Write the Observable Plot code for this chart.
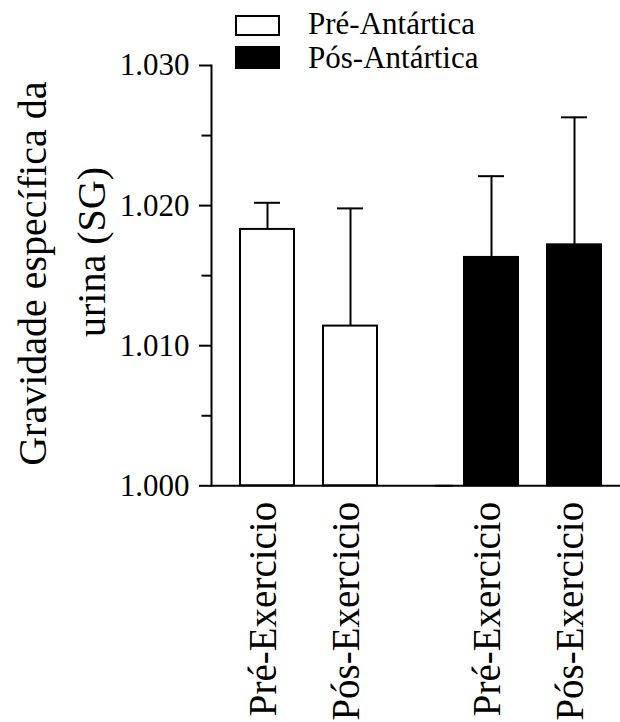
<!DOCTYPE html>
<html>
<head>
<meta charset="utf-8">
<script src="https://cdn.jsdelivr.net/npm/d3@7"></script>
<script src="https://cdn.jsdelivr.net/npm/@observablehq/plot@0.6"></script>
<style>
  body { margin: 0; background: #fff; overflow: hidden; }
  #wrap { position: relative; width: 620px; height: 722px; }
  #wrap svg.overlay { position: absolute; left: 0; top: 0; pointer-events: none; }
  #wrap svg, #wrap svg text { font-family: "Liberation Serif", "DejaVu Serif", "Noto Serif", serif !important; }
</style>
</head>
<body>
<div id="wrap"></div>
<script>
// ---- data ----
const groups = ["Pré-Antártica", "Pós-Antártica"];
const conditions = ["Pré-Exercicio", "Pós-Exercicio"];
const groupColors = ["white", "black"];
const meanPreAnt = [1.0183, 1.0114];
const meanPosAnt = [1.0163, 1.0172];
const sdPreAnt = [0.0019, 0.0084];
const sdPosAnt = [0.0058, 0.0091];
const yTicks = [1.000, 1.010, 1.020, 1.030];
const yMinorTicks = [1.005, 1.015, 1.025];
const yLabelLines = ["Gravidade específica da", "urina (SG)"];

const data = [];
conditions.forEach((c, i) => data.push({group: groups[0], cond: c, mean: meanPreAnt[i], sd: sdPreAnt[i]}));
conditions.forEach((c, i) => data.push({group: groups[1], cond: c, mean: meanPosAnt[i], sd: sdPosAnt[i]}));
data.forEach(d => d.top = d.mean + d.sd);

const font = '"Liberation Serif", "DejaVu Serif", "Noto Serif", serif';

const chart = Plot.plot({
  width: 620,
  height: 722,
  marginLeft: 211,
  marginRight: 3,
  marginTop: 65,
  marginBottom: 236.7,
  style: {fontFamily: font, color: "black", background: "white", overflow: "visible"},
  facet: {data, x: "group"},
  fx: {domain: groups, paddingInner: 0.1875, paddingOuter: 0, axis: null, label: null},
  x: {domain: conditions, paddingInner: 0.345, paddingOuter: 0.256, align: 0.658, axis: null},
  y: {domain: [1.000, 1.030], axis: null},
  color: {domain: groups, range: groupColors},
  marks: [
    Plot.ruleX(data, {x: "cond", y1: "mean", y2: "top", stroke: "black", strokeWidth: 2}),
    Plot.tickY(data, {x: "cond", y: "top", stroke: "black", strokeWidth: 2, insetLeft: 14, insetRight: 14}),
    Plot.barY(data, {x: "cond", y1: 1.000, y2: "mean", fill: "group", stroke: "black", strokeWidth: 2}),
    Plot.ruleY([1.000], {stroke: "black", strokeWidth: 2, insetRight: -60}),
    Plot.frame({anchor: "left", facetAnchor: "left", stroke: "black", strokeWidth: 2}),
    Plot.axisY({ticks: yTicks, tickFormat: d3.format(".3f"), tickSize: 12, tickPadding: 10, fontSize: 31, strokeWidth: 2, label: null}),
    Plot.axisY({ticks: yMinorTicks, tickFormat: () => "", tickSize: 9.5, strokeWidth: 2, label: null}),
    Plot.axisX({tickSize: 0, tickPadding: 16, tickRotate: -90, fontSize: 39, dx: -4, label: null})
  ]
});

const wrap = document.getElementById("wrap");
wrap.appendChild(chart);

// ---- overlay: y-axis title and legend ----
const overlay = d3.create("svg")
  .attr("class", "overlay")
  .attr("width", 620)
  .attr("height", 722);

overlay.append("text")
  .attr("transform", "translate(46,273.7) rotate(-90)")
  .attr("text-anchor", "middle")
  .attr("font-size", 40)
  .attr("fill", "black")
  .text(yLabelLines[0]);
overlay.append("text")
  .attr("transform", "translate(105,252) rotate(-90)")
  .attr("text-anchor", "middle")
  .attr("font-size", 40)
  .attr("fill", "black")
  .text(yLabelLines[1]);

groups.forEach((g, i) => {
  overlay.append("rect")
    .attr("x", 236).attr("y", i ? 47 : 16)
    .attr("width", 43).attr("height", i ? 21 : 19)
    .attr("fill", groupColors[i])
    .attr("stroke", "black").attr("stroke-width", 2);
  overlay.append("text")
    .attr("x", 308).attr("y", i ? 68 : 34)
    .attr("font-size", 31)
    .attr("fill", "black")
    .text(g);
});

wrap.appendChild(overlay.node());
</script>
</body>
</html>
